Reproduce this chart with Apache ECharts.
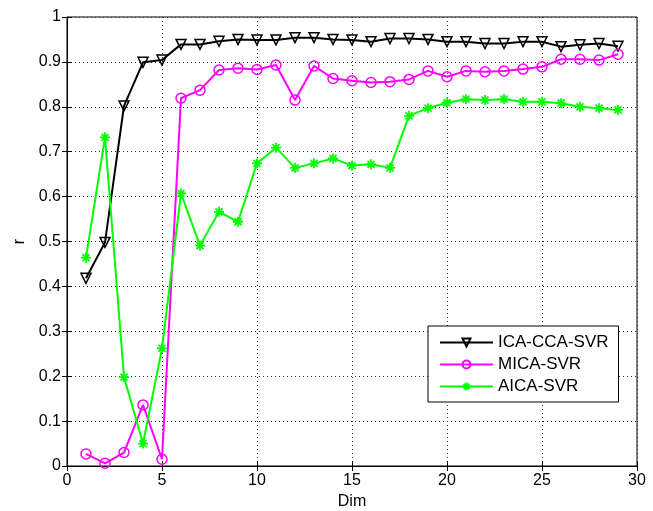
<!DOCTYPE html>
<html>
<head>
<meta charset="utf-8">
<script src="https://cdn.jsdelivr.net/npm/echarts@6/dist/echarts.min.js"></script>
<style>
  html, body { margin: 0; padding: 0; background: #fff; }
  #main { width: 653px; height: 511px; }
</style>
</head>
<body>
<div id="main"></div>
<script>
// data
var dims = [1, 2, 3, 4, 5, 6, 7, 8, 9, 10, 11, 12, 13, 14, 15, 16, 17, 18, 19, 20, 21, 22, 23, 24, 25, 26, 27, 28, 29];
var icaCcaSvr = [0.418, 0.498, 0.802, 0.899, 0.904, 0.939, 0.939, 0.946, 0.950, 0.949, 0.949, 0.954, 0.954, 0.950, 0.949,
                 0.945, 0.952, 0.952, 0.950, 0.945, 0.945, 0.941, 0.941, 0.945, 0.945, 0.934, 0.938, 0.941, 0.935];
var micaSvr = [0.027, 0.006, 0.030, 0.136, 0.015, 0.819, 0.837, 0.882, 0.886, 0.883, 0.893, 0.815, 0.891, 0.863, 0.858,
               0.854, 0.856, 0.861, 0.880, 0.867, 0.880, 0.878, 0.880, 0.884, 0.889, 0.906, 0.906, 0.904, 0.917];
var aicaSvr = [0.464, 0.732, 0.198, 0.050, 0.262, 0.607, 0.491, 0.566, 0.544, 0.674, 0.709, 0.664, 0.674, 0.685, 0.669,
               0.672, 0.664, 0.780, 0.797, 0.809, 0.817, 0.815, 0.817, 0.811, 0.811, 0.808, 0.800, 0.797, 0.793];

function pairs(ys) {
    return dims.map(function (d, i) { return [d, ys[i]]; });
}

var asterisk = 'path://M5 0L5 10M0 5L10 5M1.5 1.5L8.5 8.5M1.5 8.5L8.5 1.5';
var font = 'Liberation Sans, Arial, sans-serif';

var myChart = echarts.init(document.getElementById('main'));

var gridLine = { show: true, lineStyle: { color: '#333', type: [1, 3], width: 1 } };

option = {
    animation: false,
    backgroundColor: '#fff',
    grid: {
        left: 67, right: 16, top: 17, bottom: 45, outerBoundsMode: 'none',
        show: true, borderColor: '#000', borderWidth: 1
    },
    legend: {
        orient: 'vertical',
        left: 428, top: 326,
        itemWidth: 53, itemHeight: 10, itemGap: 5,
        padding: [8, 10, 7, 11],
        backgroundColor: '#fff',
        borderColor: '#000', borderWidth: 1,
        textStyle: { color: '#000', fontSize: 17, fontFamily: font },
        data: ['ICA-CCA-SVR', 'MICA-SVR', 'AICA-SVR']
    },
    xAxis: [{
        type: 'value', min: 0, max: 30, interval: 5,
        name: 'Dim', nameLocation: 'middle', nameGap: 24,
        nameTextStyle: { color: '#000', fontSize: 16, fontFamily: font },
        axisLine: { lineStyle: { color: '#000' } },
        axisTick: { inside: true, length: 5, lineStyle: { color: '#000' } },
        axisLabel: { color: '#000', fontSize: 16, fontFamily: font, margin: 7 },
        splitLine: gridLine
    }, {
        type: 'value', min: 0, max: 30, interval: 5, position: 'top',
        axisLine: { lineStyle: { color: '#000' } },
        axisTick: { inside: true, length: 5, lineStyle: { color: '#000' } },
        axisLabel: { show: false }, splitLine: { show: false }
    }],
    yAxis: [{
        type: 'value', min: 0, max: 1, interval: 0.1,
        name: 'r', nameLocation: 'middle', nameGap: 38, nameRotate: 90,
        nameTextStyle: { color: '#000', fontSize: 16, fontFamily: font },
        axisLine: { lineStyle: { color: '#000' } },
        axisTick: { inside: true, length: 5, lineStyle: { color: '#000' } },
        axisLabel: { color: '#000', fontSize: 16, fontFamily: font, margin: 6 },
        splitLine: gridLine
    }, {
        type: 'value', min: 0, max: 1, interval: 0.1, position: 'right',
        axisLine: { lineStyle: { color: '#000' } },
        axisTick: { inside: true, length: 5, lineStyle: { color: '#000' } },
        axisLabel: { show: false }, splitLine: { show: false }
    }],
    series: [
        {
            name: 'ICA-CCA-SVR', type: 'line', data: pairs(icaCcaSvr),
            symbol: 'triangle', symbolRotate: 180, symbolSize: 10,
            lineStyle: { color: '#000', width: 2 },
            itemStyle: { color: 'rgba(0,0,0,0)', borderColor: '#000', borderWidth: 1.5 }
        },
        {
            name: 'MICA-SVR', type: 'line', data: pairs(micaSvr),
            symbol: 'circle', symbolSize: 10,
            lineStyle: { color: '#ff00ff', width: 2 },
            itemStyle: { color: 'rgba(0,0,0,0)', borderColor: '#ff00ff', borderWidth: 1.5 }
        },
        {
            name: 'AICA-SVR', type: 'line', data: pairs(aicaSvr),
            symbol: asterisk, symbolSize: 10,
            lineStyle: { color: '#00ff00', width: 2 },
            itemStyle: { color: 'rgba(0,0,0,0)', borderColor: '#00ff00', borderWidth: 1.8 }
        }
    ]
};
myChart.setOption(option);
</script>
</body>
</html>
